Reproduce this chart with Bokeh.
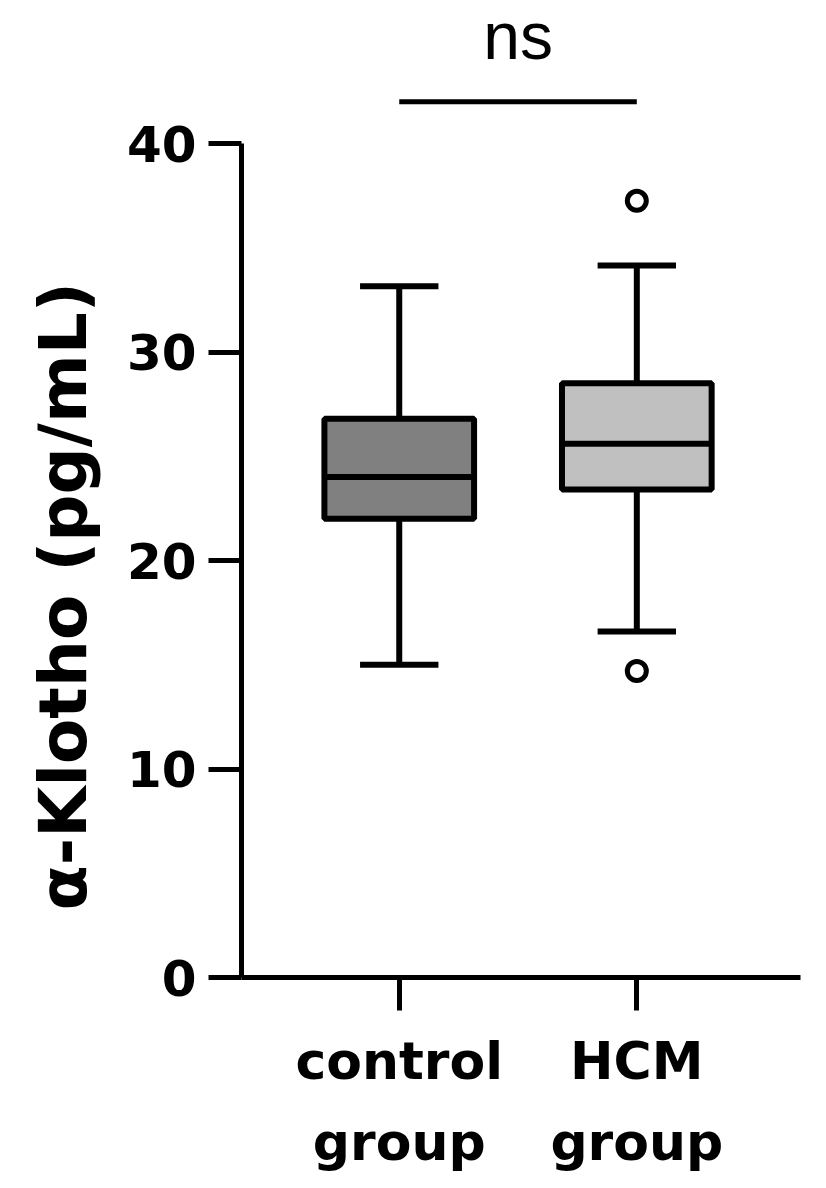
from bokeh.plotting import figure
from bokeh.models import Range1d, FixedTicker, Title, ColumnDataSource
from bokeh.core.properties import value
from bokeh.embed import file_html
from bokeh.resources import INLINE

# ---- data ----
groups = ["control\ngroup", "HCM\ngroup"]
xpos = [1, 2]
q1 = [22.0, 23.4]
median = [24.0, 25.6]
q3 = [26.8, 28.5]
whisk_low = [15.0, 16.6]
whisk_high = [33.15, 34.15]
box_colors = ["#808080", "#c0c0c0"]
outlier_x = [2, 2]
outlier_y = [37.25, 14.7]
y_ticks = [0, 10, 20, 30, 40]
sig_text = "ns"
sig_y = 42.0
y_label = "α-Klotho (pg/mL)"

BOLD = "DejaVu Sans"
LW = 6

p = figure(width=816, height=1177, output_backend="svg", toolbar_location=None,
           x_range=Range1d(0.336, 2.689), y_range=Range1d(0, 46.38),
           min_border_left=240, min_border_right=16, min_border_top=10,
           min_border_bottom=200)
p.outline_line_color = None
p.grid.visible = False
p.background_fill_color = "white"

src = ColumnDataSource(dict(x=xpos, q1=q1, med=median, q3=q3, lo=whisk_low,
                            hi=whisk_high, color=box_colors))
cap_w = 0.165
box_w = 0.63

# whiskers
p.segment(x0="x", y0="lo", x1="x", y1="q1", source=src, line_color="black", line_width=LW)
p.segment(x0="x", y0="q3", x1="x", y1="hi", source=src, line_color="black", line_width=LW)
src.data["cl"] = [x - cap_w for x in xpos]
src.data["cr"] = [x + cap_w for x in xpos]
p.segment(x0="cl", y0="lo", x1="cr", y1="lo", source=src, line_color="black", line_width=LW)
p.segment(x0="cl", y0="hi", x1="cr", y1="hi", source=src, line_color="black", line_width=LW)
# boxes
p.vbar(x="x", width=box_w, bottom="q1", top="q3", source=src, fill_color="color",
       line_color="black", line_width=LW)
src.data["bl"] = [x - box_w / 2 for x in xpos]
src.data["br"] = [x + box_w / 2 for x in xpos]
p.segment(x0="bl", y0="med", x1="br", y1="med", source=src, line_color="black", line_width=LW)
# outliers
p.scatter(outlier_x, outlier_y, marker="circle", size=19, fill_color="white",
          line_color="black", line_width=5)

# significance bar
p.segment(x0=[xpos[0]], y0=[sig_y], x1=[xpos[1]], y1=[sig_y], line_color="black", line_width=5)
p.text(x=[(xpos[0] + xpos[1]) / 2], y=[sig_y + 3.15], text=[sig_text],
       text_font=value("Liberation Sans"), text_font_size="66px",
       text_align="center", text_baseline="alphabetic", text_color="black")

# axes
for ax in (p.xaxis[0], p.yaxis[0]):
    ax.axis_line_width = 5
    ax.major_tick_line_width = 5
    ax.major_tick_out = 33
    ax.major_tick_in = 0
    ax.minor_tick_line_color = None
    ax.major_label_text_font = BOLD
    ax.major_label_text_font_style = "bold"
    ax.major_label_text_color = "black"

p.yaxis.ticker = FixedTicker(ticks=y_ticks)
p.yaxis.bounds = (0, 40)
p.yaxis.major_label_text_font_size = "50px"
p.yaxis.major_label_standoff = 12

p.xaxis.ticker = FixedTicker(ticks=xpos)
p.xaxis.major_label_overrides = {x: g for x, g in zip(xpos, groups)}
p.xaxis.major_label_text_font_size = "52px"
p.xaxis.major_label_standoff = 20
p.xaxis.major_label_text_line_height = 1.35

t = Title(text=y_label, align="left", offset=67, text_font=BOLD,
          text_font_style="bold", text_font_size="66px", text_color="black",
          standoff=44)
p.add_layout(t, "left")

open("out.html", "w").write(file_html(p, INLINE))
